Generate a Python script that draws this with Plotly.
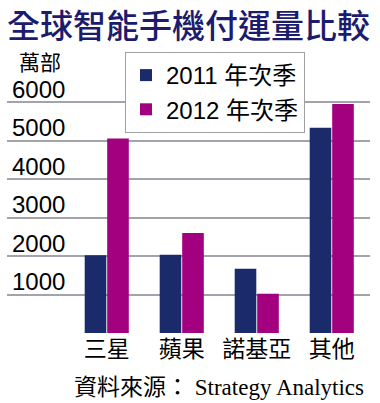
import plotly.graph_objects as go

categories = ["三星", "蘋果", "諾基亞", "其他"]
series_names = ["2011 年次季", "2012 年次季"]
values_2011 = [2020, 2030, 1670, 5330]
values_2012 = [5050, 2600, 1020, 5950]
tick_values = [1000, 2000, 3000, 4000, 5000, 6000]
tick_labels = ["1000", "2000", "3000", "4000", "5000", "6000"]

NAVY = "#1b2a6b"
MAGENTA = "#a3007f"
SANS = "Liberation Sans, Arial, Noto Sans CJK TC, sans-serif"

# plot area: y=0 at pixel 333, y=6000 at pixel 102 -> extend range upward
PX_PER_UNIT = 231 / 6000
Y_TOP = 7300
TOP_MARGIN = round(333 - Y_TOP * PX_PER_UNIT)
PLOT_H = 333 - TOP_MARGIN

fig = go.Figure()
fig.add_trace(go.Bar(x=categories, y=values_2011, name=series_names[0],
                     marker=dict(color=NAVY, line=dict(width=0))))
fig.add_trace(go.Bar(x=categories, y=values_2012, name=series_names[1],
                     marker=dict(color=MAGENTA, line=dict(width=0))))

fig.update_layout(
    width=380, height=403,
    margin=dict(l=7, r=10, t=TOP_MARGIN, b=70, pad=0),
    paper_bgcolor="white", plot_bgcolor="white",
    barmode="group", bargap=0.4, bargroupgap=0.04,
    font=dict(family=SANS, color="black", size=22),
    title=dict(text="全球智能手機付運量比較", x=7/380, xanchor="left",
               y=1 - 26/403, yanchor="middle", xref="container", yref="container",
               font=dict(size=33, color="#1c1c6e", family="Noto Sans CJK TC, sans-serif", weight=500)),
    legend=dict(x=(125-7)/363, y=(333-52)/PLOT_H, xanchor="left", yanchor="top",
                bgcolor="white", bordercolor="#a0a0a0", borderwidth=1,
                font=dict(size=24, family=SANS, color="black"), tracegroupgap=0,
                itemwidth=30),
    showlegend=True,
)
fig.update_xaxes(range=[-1.33, 3.51], showgrid=False, zeroline=False, showline=False,
                 ticks="", tickfont=dict(size=23, family="Noto Sans CJK TC, sans-serif", color="black"))
fig.update_yaxes(range=[0, Y_TOP], tickvals=tick_values, ticktext=tick_labels,
                 showgrid=True, gridcolor="#a3a3ab", gridwidth=2, zeroline=False,
                 showline=False, ticks="", ticklabelposition="inside top",
                 ticklabelstandoff=2, ticklabelshift=4,
                 tickfont=dict(size=24, family=SANS, color="black"))

fig.add_annotation(text="萬部", xref="paper", yref="paper", x=(17-7)/363, y=(333-61)/PLOT_H,
                   xanchor="left", yanchor="middle", showarrow=False,
                   font=dict(size=21, family="Noto Sans CJK TC, sans-serif", color="black"))
fig.add_annotation(text="資料來源： Strategy Analytics", xref="paper", yref="paper",
                   x=(219-7)/363, y=(333-387)/PLOT_H, xanchor="center", yanchor="middle",
                   showarrow=False,
                   font=dict(size=23, family="Liberation Serif, Noto Sans CJK TC, serif", color="black"))

fig.write_html("out.html")
